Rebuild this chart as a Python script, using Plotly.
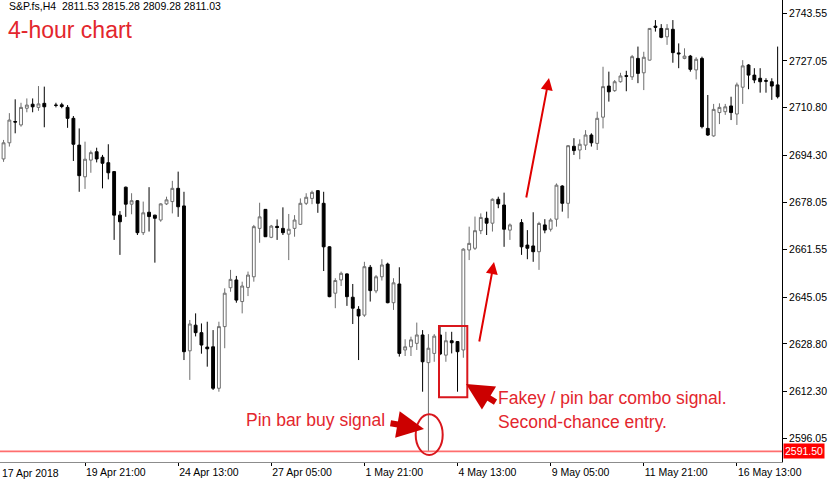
import plotly.graph_objects as go

# ---- data (bar index -> OHLC), H4 bars of S&P futures ----
bar_index = list(range(1, 136))
open_ = [2690.5, 2693.0, 2698.6, 2706.0, 2704.8, 2710.6, 2712.0, 2710.9, 2712.3, None,
         2711.7, 2711.8, 2710.9, 2707.1, 2697.8, 2686.8, 2692.6, 2695.5, 2693.6, 2691.7,
         2688.6, 2673.5, 2683.2, 2677.3, 2678.5, 2667.4, 2674.5, 2673.5, 2671.8, 2677.4,
         2678.2, 2682.8, 2676.7, 2626.4, 2635.3, 2632.7, 2627.7, 2627.8, 2613.4, 2634.8,
         2648.3, 2651.0, 2643.5, 2648.4, 2652.1, 2668.9, 2675.5, 2665.8, 2669.6, 2668.9,
         2666.9, 2668.9, 2670.3, 2677.6, 2679.3, 2682.0, 2677.6, 2662.5, 2646.4, 2651.0,
         2653.1, 2645.0, 2640.8, 2638.8, 2655.4, 2647.2, 2652.1, 2656.5, 2643.1, 2649.6,
         2626.7, 2627.8, 2629.0, 2631.9, 2622.3, 2625.5, 2631.9, 2624.9, 2629.9, 2629.6,
         2626.7, 2661.4, 2662.0, 2668.1, 2672.4, 2670.7, 2679.0, 2677.0, 2668.3, None,
         2670.9, 2663.1, 2662.8, 2660.8, 2670.1, 2668.6, 2672.1, 2683.6, 2677.6, 2697.4,
         2696.1, 2697.8, 2701.3, 2698.4, 2707.5, 2718.3, 2716.7, 2719.8, 2721.9, 2721.5,
         2727.9, 2722.9, 2727.3, 2739.1, 2738.3, 2735.4, 2738.0, 2729.8, 2727.9, 2728.7,
         2723.9, 2727.9, 2703.6, 2701.0, 2709.1, 2709.4, 2711.4, 2708.6, 2717.9, 2725.6,
         2722.1, 2721.0, 2720.2, 2719.8, 2718.7]
high = [2694.5, 2699.6, 2708.9, 2713.7, 2712.5, 2714.0, 2714.0, 2718.3, 2718.1, None,
        2712.5, 2712.5, 2711.7, 2707.9, 2703.6, 2699.0, 2695.9, 2696.9, 2694.4, 2698.1,
        2688.8, 2674.9, 2683.4, 2681.1, 2678.7, 2678.2, 2683.2, 2673.6, 2677.6, 2679.9,
        2685.4, 2688.6, 2681.6, 2637.1, 2639.4, 2635.9, 2636.5, 2633.6, 2636.5, 2648.1,
        2654.5, 2652.4, 2650.4, 2653.9, 2670.1, 2677.8, 2675.6, 2670.1, 2672.0, 2676.2,
        2673.9, 2673.5, 2679.3, 2681.1, 2682.0, 2682.2, 2681.6, 2662.7, 2651.6, 2653.9,
        2653.3, 2649.6, 2641.9, 2657.3, 2656.2, 2652.7, 2658.2, 2657.0, 2651.6, 2655.4,
        2630.4, 2631.3, 2636.2, 2633.6, 2632.2, 2632.2, 2634.8, 2633.0, 2633.0, 2629.8,
        2662.0, 2669.5, 2673.0, 2674.1, 2674.7, 2679.3, 2679.9, 2681.3, 2670.6, None,
        2672.1, 2668.3, 2674.5, 2671.2, 2672.1, 2672.4, 2684.5, 2683.9, 2697.8, 2700.2,
        2699.8, 2703.0, 2701.9, 2709.4, 2725.0, 2723.3, 2720.4, 2722.9, 2723.6, 2729.1,
        2732.0, 2730.2, 2738.4, 2741.2, 2739.8, 2739.8, 2741.2, 2733.1, 2731.4, 2729.1,
        2728.3, 2728.5, 2715.2, 2712.1, 2712.3, 2712.1, 2714.6, 2719.5, 2727.3, 2725.9,
        2724.5, 2724.5, 2721.0, 2721.0, 2732.0]
low = [2688.0, 2692.0, 2697.3, 2701.9, 2704.2, 2709.2, 2709.2, 2709.7, 2704.0, None,
       2710.9, 2710.6, 2703.8, 2692.3, 2681.6, 2682.6, 2688.2, 2691.8, 2682.8, 2685.9,
       2664.9, 2659.7, 2672.9, 2673.8, 2666.6, 2666.6, 2667.8, 2657.0, 2671.2, 2677.0,
       2674.1, 2672.9, 2623.2, 2616.3, 2631.4, 2625.4, 2620.9, 2612.8, 2612.2, 2627.3,
       2646.9, 2643.1, 2639.4, 2645.4, 2650.4, 2663.9, 2665.9, 2665.5, 2664.9, 2666.6,
       2657.9, 2666.0, 2670.1, 2677.0, 2677.3, 2674.3, 2654.1, 2645.0, 2641.2, 2648.9,
       2642.0, 2635.7, 2623.2, 2638.2, 2643.5, 2646.4, 2650.8, 2642.9, 2640.6, 2624.4,
       2624.6, 2624.6, 2626.7, 2612.2, 2591.3, 2622.6, 2624.9, 2622.6, 2625.5, 2612.2,
       2624.0, 2657.9, 2661.4, 2666.9, 2666.6, 2667.8, 2675.9, 2662.5, 2664.9, None,
       2659.7, 2658.2, 2657.3, 2654.5, 2667.2, 2667.8, 2669.5, 2674.7, 2672.4, 2694.4,
       2692.9, 2696.1, 2697.3, 2696.1, 2703.6, 2712.9, 2716.3, 2719.5, 2716.5, 2720.4,
       2719.3, 2716.9, 2727.2, 2737.2, 2734.9, 2732.6, 2726.4, 2724.5, 2727.6, 2723.3,
       2720.6, 2703.6, 2701.0, 2700.7, 2705.1, 2708.3, 2706.5, 2704.8, 2712.1, 2717.2,
       2719.3, 2716.0, 2716.0, 2713.5, 2714.0]
close = [2693.0, 2698.6, 2706.5, 2705.8, 2710.9, 2711.7, 2711.1, 2712.1, 2711.1, None,
         2711.6, 2711.2, 2707.1, 2698.1, 2687.2, 2692.9, 2695.2, 2693.0, 2691.5, 2688.2,
         2673.5, 2671.2, 2677.3, 2678.5, 2667.4, 2674.3, 2673.0, 2672.4, 2677.4, 2678.8,
         2682.8, 2676.4, 2626.1, 2635.7, 2632.7, 2628.4, 2627.1, 2613.4, 2634.8, 2646.4,
         2651.2, 2644.0, 2648.9, 2652.7, 2669.5, 2672.9, 2666.0, 2669.7, 2669.2, 2667.4,
         2668.6, 2671.8, 2677.6, 2679.7, 2681.4, 2677.6, 2662.5, 2645.2, 2650.8, 2653.3,
         2645.2, 2641.2, 2638.5, 2655.6, 2647.3, 2652.1, 2656.2, 2643.1, 2650.0, 2625.5,
         2627.8, 2630.2, 2631.9, 2622.6, 2627.3, 2631.5, 2625.3, 2629.9, 2629.2, 2626.1,
         2661.7, 2663.7, 2668.1, 2672.7, 2670.7, 2679.0, 2677.4, 2668.6, 2670.1, None,
         2662.5, 2662.0, 2660.8, 2670.6, 2668.3, 2671.8, 2683.9, 2677.6, 2697.6, 2695.9,
         2698.1, 2701.3, 2698.6, 2707.1, 2718.1, 2716.3, 2719.8, 2721.8, 2721.7, 2728.5,
         2722.7, 2728.3, 2738.3, 2738.7, 2735.2, 2738.3, 2729.9, 2729.5, 2728.7, 2724.1,
         2727.6, 2704.2, 2701.3, 2710.2, 2710.9, 2711.1, 2709.1, 2718.7, 2725.3, 2722.1,
         2720.4, 2719.8, 2720.0, 2718.3, 2714.6]

x_tick_bars = [16, 32, 48, 64, 80, 96, 112, 128]
x_tick_labels = ["19 Apr 21:00", "24 Apr 13:00", "27 Apr 05:00", "1 May 21:00",
                 "4 May 13:00", "9 May 05:00", "11 May 21:00", "16 May 13:00"]
first_label = "17 Apr 2018"
y_ticks = [2596.05, 2612.30, 2628.80, 2645.05, 2661.55, 2678.05, 2694.30,
           2710.80, 2727.05, 2743.55]
y_tick_labels = ["%.2f" % v for v in y_ticks]
level_price = 2591.50
header = "S&P.fs,H4  2811.53 2815.28 2809.28 2811.03"

# ---- figure ----
W, H = 830, 480
ML, MR, MT, MB = 0, 48, 0, 18
PW, PH = W - ML - MR, H - MT - MB


def px(x):
    return x / PW


def py(y):
    return 1 - y / PH


RED = "#e3262d"
DARK_RED = "#cc0000"
AX_FONT = dict(family="Liberation Sans, Arial, sans-serif", size=10.5, color="black")
TXT_FONT = "Liberation Sans, Arial, sans-serif"

fig = go.Figure(go.Candlestick(
    x=bar_index, open=open_, high=high, low=low, close=close,
    increasing=dict(line=dict(color="#6e6e6e", width=1), fillcolor="white"),
    decreasing=dict(line=dict(color="black", width=1), fillcolor="black"),
    whiskerwidth=0, hoverinfo="skip",
))

fig.update_layout(
    width=W, height=H,
    margin=dict(l=ML, r=MR, t=MT, b=MB, pad=0),
    paper_bgcolor="white", plot_bgcolor="white",
    showlegend=False,
    xaxis=dict(
        range=[1.39, 135.75], rangeslider=dict(visible=False),
        tickmode="array", tickvals=x_tick_bars, ticktext=x_tick_labels,
        ticks="outside", ticklen=3, tickcolor="black",
        ticklabelposition="outside right",
        showline=True, linecolor="#8c8c8c", linewidth=1,
        showgrid=False, zeroline=False, tickfont=AX_FONT,
    ),
    yaxis=dict(
        side="right", range=[2587.81, 2748.17],
        tickmode="array", tickvals=y_ticks, ticktext=y_tick_labels,
        ticks="outside", ticklen=4, tickcolor="black",
        showline=True, linecolor="black", linewidth=1,
        showgrid=False, zeroline=False, tickfont=AX_FONT,
    ),
)

shapes = [
    # support level line
    dict(type="line", xref="paper", x0=0, x1=1, yref="y", y0=level_price, y1=level_price,
         line=dict(color="#ff6e6e", width=1.6)),
    # ellipse around pin bar
    dict(type="circle", xref="paper", yref="paper",
         x0=px(415.7), x1=px(442.7), y0=py(455), y1=py(414.3),
         line=dict(color="#d9161c", width=2)),
    # rectangle around fakey
    dict(type="rect", xref="paper", yref="paper",
         x0=px(439), x1=px(467.3), y0=py(397.3), y1=py(326),
         line=dict(color="#d9161c", width=2)),
]
fig.update_layout(shapes=shapes)

ann = [
    dict(text=header, xref="paper", yref="paper", x=px(7), y=py(6),
         xanchor="left", yanchor="middle", showarrow=False, font=AX_FONT),
    dict(text="4-hour chart", xref="paper", yref="paper", x=px(6), y=py(30),
         xanchor="left", yanchor="middle", showarrow=False,
         font=dict(family=TXT_FONT, size=23, color=RED)),
    dict(text="Pin bar buy signal", xref="paper", yref="paper", x=px(244), y=py(420),
         xanchor="left", yanchor="middle", showarrow=False,
         font=dict(family=TXT_FONT, size=17.5, color=RED)),
    dict(text="Fakey / pin bar combo signal.", xref="paper", yref="paper", x=px(496),
         y=py(398), xanchor="left", yanchor="middle", showarrow=False,
         font=dict(family=TXT_FONT, size=17.5, color=RED)),
    dict(text="Second-chance entry.", xref="paper", yref="paper", x=px(496),
         y=py(422), xanchor="left", yanchor="middle", showarrow=False,
         font=dict(family=TXT_FONT, size=17.5, color=RED)),
    # thick arrows
    dict(text="", xref="paper", yref="paper", x=px(424), y=py(429), ax=-35, ay=-6,
         showarrow=True, arrowhead=2, arrowsize=0.9, arrowwidth=6, arrowcolor=DARK_RED),
    dict(text="", xref="paper", yref="paper", x=px(466), y=py(384), ax=31, ay=19,
         showarrow=True, arrowhead=2, arrowsize=0.9, arrowwidth=6, arrowcolor=DARK_RED),
    # thin arrows
    dict(text="", xref="paper", yref="paper", x=px(494), y=py(262), ax=-15, ay=81,
         showarrow=True, arrowhead=2, arrowsize=1.2, arrowwidth=2, arrowcolor="#e00000"),
    dict(text="", xref="paper", yref="paper", x=px(549), y=py(78), ax=-23, ay=121,
         showarrow=True, arrowhead=2, arrowsize=1.2, arrowwidth=2, arrowcolor="#e00000"),
    # price label of the level
    dict(text="%.2f" % level_price, xref="paper", yref="y", x=1, y=level_price,
         xanchor="left", yanchor="middle", xshift=1, showarrow=False,
         bgcolor="#ff0000", borderpad=1,
         font=dict(family=AX_FONT["family"], size=10.5, color="white")),
    # first time label at the left edge
    dict(text=first_label, xref="paper", yref="paper", x=0, y=0,
         xanchor="left", yanchor="top", yshift=-3, showarrow=False,
         font=AX_FONT),
]
fig.update_layout(annotations=ann)

fig.write_html("out.html", config={"displayModeBar": False},
               post_script="document.body.style.margin='0';")
